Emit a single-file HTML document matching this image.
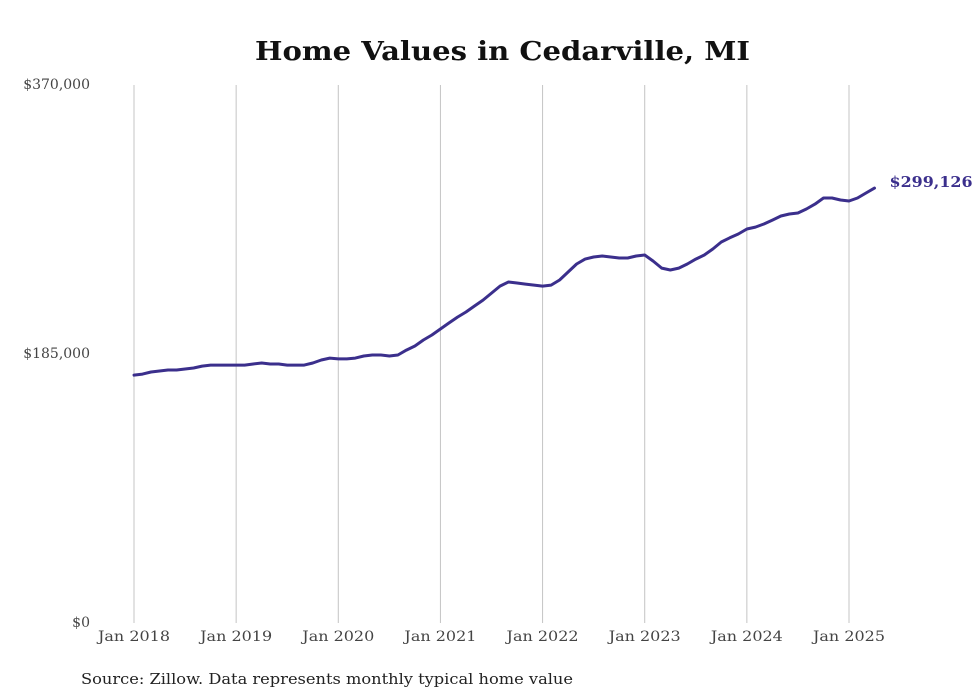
<!DOCTYPE html>
<html><head><meta charset="utf-8"><style>
body{margin:0;background:#fff;width:980px;height:699px;overflow:hidden}
svg{display:block}
</style></head><body>
<svg id="chart" width="980" height="699" xmlns="http://www.w3.org/2000/svg">
<text x="255" y="60" textLength="495" lengthAdjust="spacingAndGlyphs" font-family="DejaVu Serif, serif" font-weight="bold" font-size="26" fill="#111">Home Values in Cedarville, MI</text>
<g id="grid"></g><g id="yaxis"></g><g id="xaxis"></g><g id="series"></g>
<text x="81" y="684" textLength="492" lengthAdjust="spacingAndGlyphs" font-family="DejaVu Serif, serif" font-size="15" fill="#222">Source: Zillow. Data represents monthly typical home value</text>
</svg>
<script>
const yearLabels=["Jan 2018","Jan 2019","Jan 2020","Jan 2021","Jan 2022","Jan 2023","Jan 2024","Jan 2025"];
const yTicks=[0,185000,370000];
const yTickLabels=["$0","$185,000","$370,000"];
const endLabel="$299,126";
// monthly values (thousands USD), Jan 2018 – Apr 2025
const values=[
170.5,171.2,172.6,173.3,174.0,174.0,174.7,175.4,176.7,177.4,177.4,177.4,
177.4,177.4,178.1,178.8,178.1,178.1,177.4,177.4,177.4,178.8,180.9,182.2,
181.6,181.6,182.2,183.6,184.3,184.3,183.6,184.3,187.7,190.5,194.6,198.1,
202.2,206.3,210.4,213.9,218.0,222.1,226.9,231.7,234.5,233.8,233.1,232.4,
231.7,232.4,235.9,241.4,246.9,250.3,251.7,252.4,251.7,251.0,251.0,252.4,
253.1,248.9,244.1,242.8,244.1,246.9,250.3,253.1,257.2,262.0,264.9,267.5,
271.0,272.3,274.4,277.1,279.9,281.3,282.0,284.7,288.1,292.3,292.3,290.9,
290.2,292.3,295.7,299.126];
const NS="http://www.w3.org/2000/svg";
const x0=134,monthPx=715/84,yBase=623,yTop=85,yMax=370000;
const xs=m=>x0+m*monthPx;
const ys=v=>yBase-(v/yMax)*(yBase-yTop);
function mk(tag,attrs,parent){const e=document.createElementNS(NS,tag);for(const k in attrs)e.setAttribute(k,attrs[k]);parent.appendChild(e);return e;}
const grid=document.getElementById('grid'),xa=document.getElementById('xaxis'),ya=document.getElementById('yaxis'),ser=document.getElementById('series');
yearLabels.forEach((lab,i)=>{
  const x=xs(i*12);
  const l=mk('line',{x1:x,x2:x,y1:yTop,y2:yBase,stroke:'#c4c4c4','stroke-width':1},grid);
  
  
  const t=mk('text',{x:x,y:641,'text-anchor':'middle',textLength:72,lengthAdjust:'spacingAndGlyphs','font-family':'DejaVu Serif, serif','font-size':14,fill:'#444'},xa);
  t.textContent=lab;
  
  
});
yTicks.forEach((v,i)=>{
  const t=mk('text',{x:90,y:ys(v)+4,'text-anchor':'end','font-family':'DejaVu Serif, serif','font-size':14,fill:'#444'},ya);
  t.textContent=yTickLabels[i];
  
  
});
const pts=values.map((v,i)=>xs(i).toFixed(1)+','+ys(v*1000).toFixed(1)).join(' ');
const pl=mk('polyline',{points:pts,fill:'none',stroke:'#3b2f8c','stroke-width':3,'stroke-linejoin':'round','stroke-linecap':'round'},ser);


const last=values.length-1;
const el=mk('text',{x:xs(last)+15,y:ys(values[last]*1000)-1,textLength:83,lengthAdjust:'spacingAndGlyphs','font-family':'DejaVu Serif, serif','font-weight':'bold','font-size':15,fill:'#3b2f8c'},ser);
el.textContent=endLabel;


</script>
</body></html>
